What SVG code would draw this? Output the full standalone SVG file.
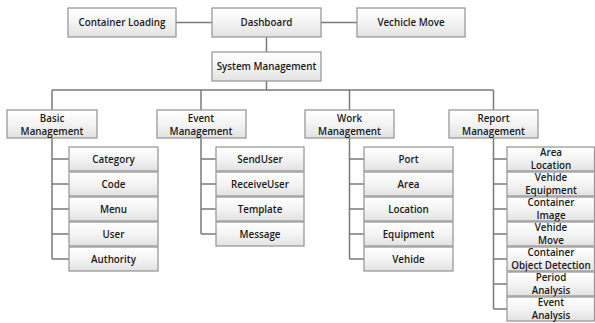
<svg xmlns="http://www.w3.org/2000/svg" width="595" height="323" viewBox="0 0 595 323">
  <defs>
    <linearGradient id="boxFill" x1="0" y1="0" x2="0" y2="1">
      <stop offset="0" stop-color="#ffffff"/>
      <stop offset="0.5" stop-color="#f4f4f4"/>
      <stop offset="1" stop-color="#e2e2e2"/>
    </linearGradient>
    <style>
      .box { fill: url(#boxFill); stroke: #9a9a9a; stroke-width: 1.3; }
      .lbl { font-family: "Open Sans", "DejaVu Sans", sans-serif; font-weight: 600; font-size: 9.8px; fill: #1a1a1a; text-anchor: middle; }
      .wire { fill: none; stroke: #7a7a7a; stroke-width: 1.5; }
    </style>
  </defs>
  <rect width="595" height="323" fill="#ffffff"/>

  <!-- connectors -->
  <g id="connectors" class="wire">
    <path d="M176 22.5H212M321 22.5H357M266.5 37V52M266.5 81V90M52 90H493.5M52 90V110M201 90V110M349.5 90V110M493.5 90V110"/>
    <path d="M52 138V259M52 159H69M52 184H69M52 209H69M52 234H69M52 259H69"/>
    <path d="M201 138V234M201 159H216M201 184H216M201 209H216M201 234H216"/>
    <path d="M349.5 138V259M349.5 159H364M349.5 184H364M349.5 209H364M349.5 234H364M349.5 259H364"/>
    <path d="M493.5 138V309M493.5 159H507M493.5 184H507M493.5 209H507M493.5 234H507M493.5 259H507M493.5 284H507M493.5 309H507"/>
  </g>

  <!-- top row -->
  <g id="container-loading"><rect class="box" x="68" y="8" width="108" height="29"/><text class="lbl" x="122" y="26">Container Loading</text></g>
  <g id="dashboard"><rect class="box" x="212" y="8" width="109" height="29"/><text class="lbl" x="266.5" y="26">Dashboard</text></g>
  <g id="vehicle-move"><rect class="box" x="357" y="8" width="108" height="29"/><text class="lbl" x="411" y="26">Vechicle Move</text></g>
  <g id="system-management"><rect class="box" x="212" y="52" width="109" height="29"/><text class="lbl" x="266.5" y="70">System Management</text></g>

  <!-- second level -->
  <g id="basic-management"><rect class="box" x="7" y="110" width="90" height="28"/><text class="lbl" x="52" y="122">Basic</text><text class="lbl" x="52" y="134.5">Management</text></g>
  <g id="event-management"><rect class="box" x="157" y="110" width="89" height="28"/><text class="lbl" x="201" y="122">Event</text><text class="lbl" x="201" y="134.5">Management</text></g>
  <g id="work-management"><rect class="box" x="305" y="110" width="89" height="28"/><text class="lbl" x="349.5" y="122">Work</text><text class="lbl" x="349.5" y="134.5">Management</text></g>
  <g id="report-management"><rect class="box" x="449" y="110" width="89" height="28"/><text class="lbl" x="493.5" y="122">Report</text><text class="lbl" x="493.5" y="134.5">Management</text></g>

  <!-- basic management children -->
  <g id="category"><rect class="box" x="69" y="147" width="89" height="24"/><text class="lbl" x="113.5" y="162.5">Category</text></g>
  <g id="code"><rect class="box" x="69" y="172" width="89" height="24"/><text class="lbl" x="113.5" y="187.5">Code</text></g>
  <g id="menu"><rect class="box" x="69" y="197" width="89" height="24"/><text class="lbl" x="113.5" y="212.5">Menu</text></g>
  <g id="user"><rect class="box" x="69" y="222" width="89" height="24"/><text class="lbl" x="113.5" y="237.5">User</text></g>
  <g id="authority"><rect class="box" x="69" y="247" width="89" height="24"/><text class="lbl" x="113.5" y="262.5">Authority</text></g>

  <!-- event management children -->
  <g id="send-user"><rect class="box" x="216" y="147" width="88" height="24"/><text class="lbl" x="260" y="162.5">SendUser</text></g>
  <g id="receive-user"><rect class="box" x="216" y="172" width="88" height="24"/><text class="lbl" x="260" y="187.5">ReceiveUser</text></g>
  <g id="template"><rect class="box" x="216" y="197" width="88" height="24"/><text class="lbl" x="260" y="212.5">Template</text></g>
  <g id="message"><rect class="box" x="216" y="222" width="88" height="24"/><text class="lbl" x="260" y="237.5">Message</text></g>

  <!-- work management children -->
  <g id="port"><rect class="box" x="364" y="147" width="89" height="24"/><text class="lbl" x="408.5" y="162.5">Port</text></g>
  <g id="area"><rect class="box" x="364" y="172" width="89" height="24"/><text class="lbl" x="408.5" y="187.5">Area</text></g>
  <g id="location"><rect class="box" x="364" y="197" width="89" height="24"/><text class="lbl" x="408.5" y="212.5">Location</text></g>
  <g id="equipment"><rect class="box" x="364" y="222" width="89" height="24"/><text class="lbl" x="408.5" y="237.5">Equipment</text></g>
  <g id="vehide"><rect class="box" x="364" y="247" width="89" height="24"/><text class="lbl" x="408.5" y="262.5">Vehide</text></g>

  <!-- report management children: two tight lines per box -->
  <g id="area-location"><rect class="box" x="507" y="147" width="87.5" height="24"/><text class="lbl" x="551" y="156">Area</text><text class="lbl" x="551" y="168.5">Location</text></g>
  <g id="vehicle-equipment"><rect class="box" x="507" y="172" width="87.5" height="24"/><text class="lbl" x="551" y="181">Vehide</text><text class="lbl" x="551" y="193.5">Equipment</text></g>
  <g id="container-image"><rect class="box" x="507" y="197" width="87.5" height="24"/><text class="lbl" x="551" y="206">Container</text><text class="lbl" x="551" y="218.5">Image</text></g>
  <g id="vehicle-move-report"><rect class="box" x="507" y="222" width="87.5" height="24"/><text class="lbl" x="551" y="231">Vehide</text><text class="lbl" x="551" y="243.5">Move</text></g>
  <g id="container-object-detection"><rect class="box" x="507" y="247" width="87.5" height="24"/><text class="lbl" x="551" y="256">Container</text><text class="lbl" x="551" y="268.5">Object Detection</text></g>
  <g id="period-analysis"><rect class="box" x="507" y="272" width="87.5" height="24"/><text class="lbl" x="551" y="281">Period</text><text class="lbl" x="551" y="293.5">Analysis</text></g>
  <g id="event-analysis"><rect class="box" x="507" y="297" width="87.5" height="24"/><text class="lbl" x="551" y="306">Event</text><text class="lbl" x="551" y="318.5">Analysis</text></g>
</svg>
